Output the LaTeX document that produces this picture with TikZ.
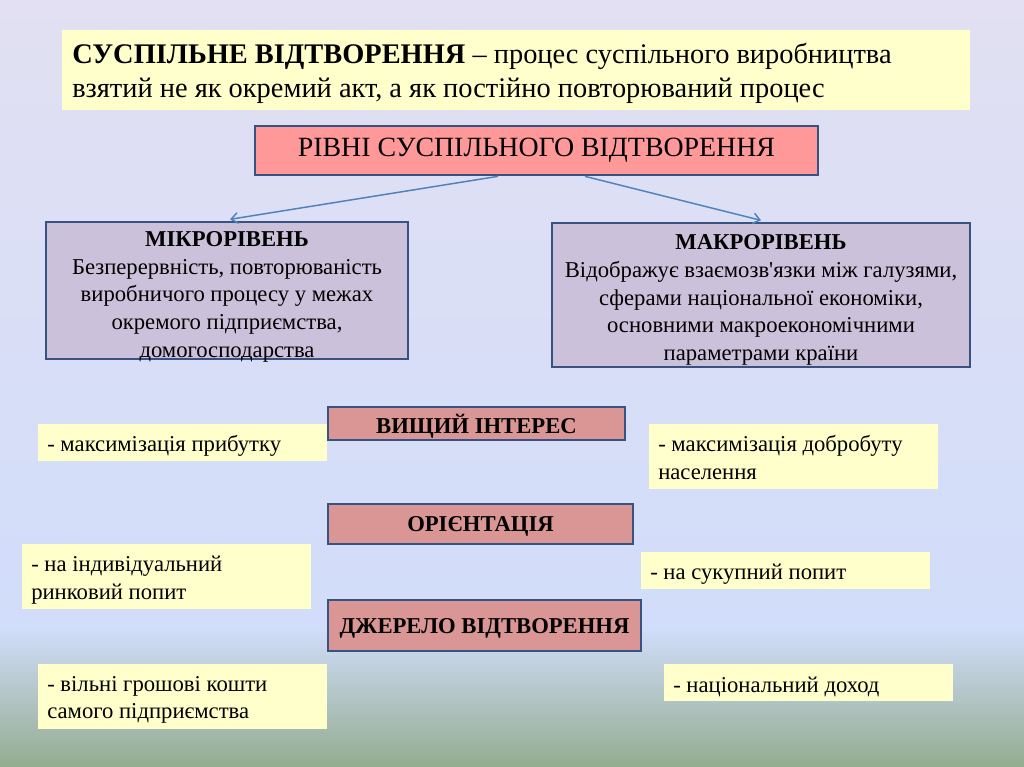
\documentclass[tikz,border=0pt]{standalone}
\usepackage{fontspec}
\setmainfont{Liberation Serif}[Ligatures=TeXOff]
\usetikzlibrary{arrows.meta}
\definecolor{bgtop}{RGB}{226,224,242}
\definecolor{bgmid}{RGB}{209,221,250}
\definecolor{bgbot}{RGB}{148,172,144}
\definecolor{ylw}{RGB}{255,255,204}
\definecolor{pinkred}{RGB}{255,153,153}
\definecolor{lav}{RGB}{204,193,218}
\definecolor{rosy}{RGB}{217,150,148}
\definecolor{bord}{RGB}{56,82,130}
\definecolor{arr}{RGB}{79,129,189}
\begin{document}
\begin{tikzpicture}[x=0.75pt,y=-0.75pt,
  bx/.style={draw=bord, line width=2pt, inner sep=0pt, align=center},
  yb/.style={fill=ylw, inner sep=0pt, anchor=north west, minimum width=216.75pt},
  yt/.style={anchor=west, inner sep=0pt, align=left, font=\fontsize{17}{20.4}\selectfont},
  big/.style={font=\fontsize{21.3}{25.5}\selectfont},
  body/.style={font=\fontsize{17}{20.7}\selectfont},
  arrline/.style={draw=arr, line width=1.1pt, -{Straight Barb[length=5pt,width=8pt]}},
]
\useasboundingbox (0,0) rectangle (1024,767);
\shade[top color=bgtop, bottom color=bgmid] (0,0) rectangle (1024,628);
\shade[top color=bgmid, bottom color=bgbot] (0,628) rectangle (1024,767);

\node[fill=ylw, anchor=north west, minimum width=681pt, minimum height=60pt, inner sep=0pt] (def) at (62,30) {};
\node[anchor=west, inner sep=0pt, align=left, big] (deftext) at ([xshift=7.5pt,yshift=-2.6pt]def.west)
  {\textbf{СУСПІЛЬНЕ ВІДТВОРЕННЯ} – процес суспільного виробництва\\взятий не як окремий акт, а як постійно повторюваний процес};

\node[bx, fill=pinkred, minimum width=422.25pt, minimum height=36.75pt, font=\fontsize{20.9}{25}\selectfont] (lev) at (536.5,150.5)
  {РІВНІ СУСПІЛЬНОГО ВІДТВОРЕННЯ};

\node[bx, fill=lav, minimum width=271.5pt, minimum height=102.75pt] (micro) at (227,290.5) {};
\node[align=center, inner sep=0pt, body] (microtext) at ([yshift=-4.8pt]micro.center)
  {\textbf{МІКРОРІВЕНЬ}\\Безперервність, повторюваність\\виробничого процесу у межах\\окремого підприємства,\\домогосподарства};

\node[bx, fill=lav, minimum width=313.5pt, minimum height=108pt] (macro) at (761,295) {};
\node[align=center, inner sep=0pt, body] (macrotext) at ([yshift=-3.8pt]macro.center)
  {\textbf{МАКРОРІВЕНЬ}\\Відображує взаємозв'язки між галузями,\\сферами національної економіки,\\основними макроекономічними\\параметрами країни};

\draw[arrline] ([xshift=-28.9pt]lev.south) -- ([xshift=2.25pt,yshift=1pt]micro.north);
\draw[arrline] ([xshift=36.4pt]lev.south) -- ([yshift=1pt]macro.north);

\node[yb, minimum height=27.75pt] (y1) at (38,424) {};
\node[yt] (t1) at ([xshift=6.75pt,yshift=-2.3pt]y1.west) {- максимізація прибутку};
\node[yb, minimum height=48.75pt] (y2) at (649,424) {};
\node[yt] (t2) at ([xshift=6.75pt,yshift=-0.6pt]y2.west) {- максимізація добробуту\\населення};
\node[yb, minimum height=48.75pt] (y3) at (22,544) {};
\node[yt] (t3) at ([xshift=6.75pt,yshift=-2.6pt]y3.west) {- на індивідуальний\\ринковий попит};
\node[yb, minimum height=27.75pt] (y4) at (641,552) {};
\node[yt] (t4) at ([xshift=6.75pt,yshift=-2.6pt]y4.west) {- на сукупний попит};
\node[yb, minimum height=48.75pt] (y5) at (38,664) {};
\node[yt] (t5) at ([xshift=6.75pt,yshift=-2.6pt]y5.west) {- вільні грошові кошти\\самого підприємства};
\node[yb, minimum height=27.75pt] (y6) at (664,664) {};
\node[yt] (t6) at ([xshift=6.75pt,yshift=-2.8pt]y6.west) {- національний доход};

\node[bx, fill=rosy, minimum width=222.75pt, minimum height=24.75pt, text depth=0pt, body] (interest) at (476.5,423.5)
  {\textbf{ВИЩИЙ ІНТЕРЕС}};
\node[bx, fill=rosy, minimum width=228.75pt, minimum height=30pt, text depth=0pt, body] (orient) at (480.5,524)
  {\textbf{ОРІЄНТАЦІЯ}};
\node[bx, fill=rosy, minimum width=234.75pt, minimum height=38.25pt, text depth=0pt, body] (source) at (484.5,625.5)
  {\textbf{ДЖЕРЕЛО ВІДТВОРЕННЯ}};
\end{tikzpicture}
\end{document}
